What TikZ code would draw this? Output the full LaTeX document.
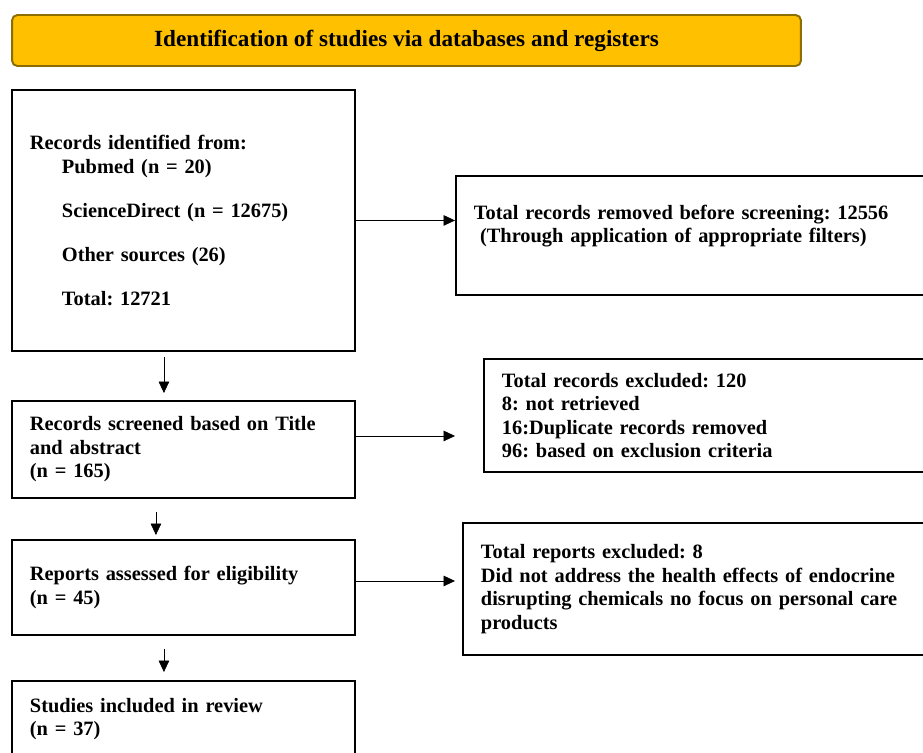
\documentclass[tikz,border=0pt]{standalone}
\usepackage{fontspec}
\setmainfont{Liberation Serif}
\usetikzlibrary{arrows.meta}
\definecolor{bannerfill}{HTML}{FFC000}
\definecolor{bannerline}{HTML}{8C6E00}
\frenchspacing

\begin{document}
\begin{tikzpicture}[x=0.02cm, y=-0.02cm, >={Triangle[length=6.5pt, width=6pt]},
  font=\bfseries\fontsize{11.6}{13.4}\selectfont,
  stage/.style={draw, line width=1.1pt, anchor=north west, align=left,
    inner xsep=0.36cm, inner ysep=0pt, text width=#1},
  banner/.style={draw=bannerline, fill=bannerfill, line width=1.1pt,
    rounded corners=3pt, minimum width=15.78cm, minimum height=1.02cm,
    font=\bfseries\fontsize{13.2}{15}\selectfont}]

\useasboundingbox (0,0) rectangle (923,752);

% title bar
\node[banner] (head) at (406.5,40.5) {Identification of studies via databases and registers};

% left column: the main flow
\node[stage=6.14cm, minimum height=5.22cm] (ident) at (11,89) {Records identified from:\\
  \hspace*{0.64cm}Pubmed (n = 20)\\[0.41cm]
  \hspace*{0.64cm}ScienceDirect (n = 12675)\\[0.41cm]
  \hspace*{0.64cm}Other sources (26)\\[0.41cm]
  \hspace*{0.64cm}Total: 12721};
\node[stage=6.14cm, minimum height=1.94cm] (screen) at (11,400) {Records screened based on Title\\ and abstract\\ (n = 165)};
\node[stage=6.14cm, minimum height=1.9cm] (elig) at (11,539) {Reports assessed for eligibility\\ (n = 45)};
\node[stage=6.14cm, minimum height=1.52cm] (incl) at (11,680) {Studies included in review\\ (n = 37)};

% right column: what was taken out
\node[stage=8.78cm, minimum height=2.38cm] (removed) at (455,175) {Total records removed before screening: 12556\\
  \hspace*{0.3em}(Through application of appropriate filters)\\ \mbox{}};
\node[stage=8.22cm, minimum height=2.26cm] (excl) at (483,358) {Total records excluded: 120\\ 8: not retrieved\\
  16:Duplicate records removed\\ 96: based on exclusion criteria};
\node[stage=8.64cm, minimum height=2.64cm] (rexcl) at (462,522) {Total reports excluded: 8\\
  Did not address the health effects of endocrine\\ disrupting chemicals no focus on personal care\\ products};

% down the flow
\draw[->, shorten <=0.1cm, shorten >=0.14cm] ([xshift=-0.39cm]ident.south) -- ([xshift=-0.39cm]ident.south |- screen.north);
\draw[->, shorten <=0.26cm, shorten >=0.08cm] ([xshift=-0.55cm]screen.south) -- ([xshift=-0.55cm]screen.south |- elig.north);
\draw[->, shorten <=0.26cm, shorten >=0.16cm] ([xshift=-0.39cm]elig.south) -- ([xshift=-0.39cm]elig.south |- incl.north);

% across to the exclusions
\draw[->] (ident.east) -- (ident.east -| removed.west);
\draw[->, shorten >=0.56cm] ([yshift=0.27cm]screen.east) -- ([yshift=0.27cm]screen.east -| excl.west);
\draw[->, shorten >=0.14cm] ([yshift=0.13cm]elig.east) -- ([yshift=0.13cm]elig.east -| rexcl.west);

\end{tikzpicture}
\end{document}
